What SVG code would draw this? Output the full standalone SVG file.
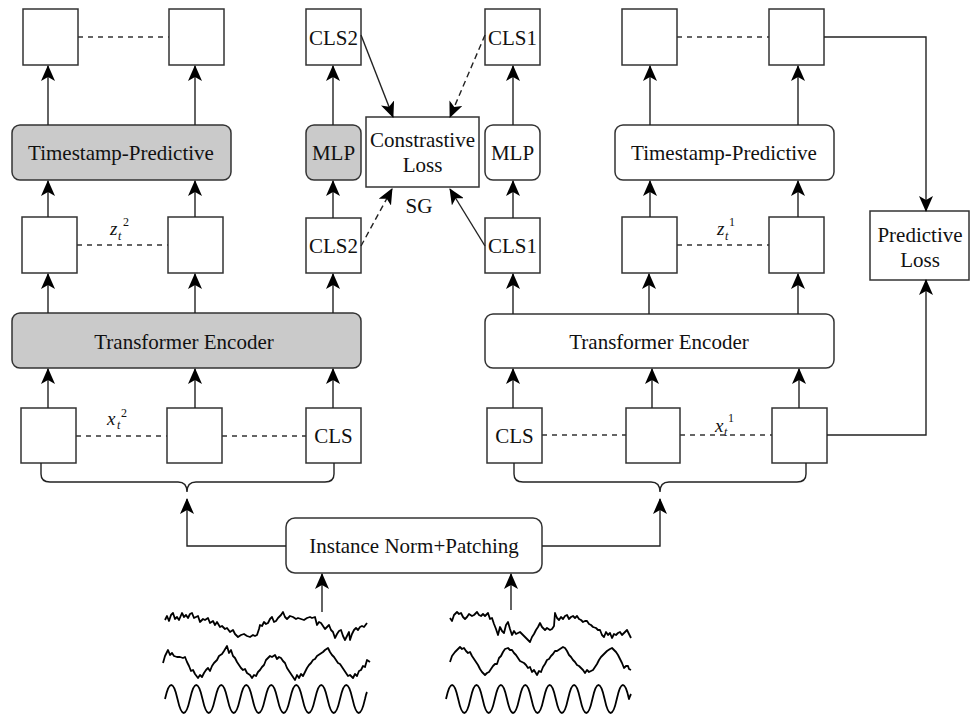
<svg xmlns="http://www.w3.org/2000/svg" width="971" height="717" viewBox="0 0 971 717">
<defs>
<marker id="ah" viewBox="0 0 16 14" refX="15" refY="7" markerWidth="16" markerHeight="14" orient="auto" markerUnits="userSpaceOnUse">
<path d="M0,0 L16,7 L0,14 L4,7 z" fill="#000"/>
</marker>
<style>
.box{fill:#fff;stroke:#333;stroke-width:1.5}
.gray{fill:#cacaca;stroke:#333;stroke-width:1.5}
.lbl{font-family:"Liberation Serif","Times New Roman",serif;font-size:21px;fill:#111;text-anchor:middle}
.math{font-family:"Liberation Serif","Times New Roman",serif;fill:#111;font-style:italic}
.num{font-family:"Liberation Serif","Times New Roman",serif;fill:#111;font-size:12px}
.ar{fill:none;stroke:#222;stroke-width:1.4;marker-end:url(#ah)}
.ard{fill:none;stroke:#222;stroke-width:1.4;stroke-dasharray:6,4;marker-end:url(#ah)}
.ln{fill:none;stroke:#222;stroke-width:1.4}
.dl{fill:none;stroke:#333;stroke-width:1.3;stroke-dasharray:5,5}
.wave{fill:none;stroke:#000;stroke-width:1.8;stroke-linejoin:round}
</style>
</defs>
<rect width="971" height="717" fill="#fff"/>

<!-- Left branch -->
<g id="left-out-1"><rect class="box" x="23" y="9" width="55" height="56"/></g>
<g id="left-out-2"><rect class="box" x="169" y="9" width="55" height="56"/></g>
<g id="left-tp"><rect class="gray" x="12" y="125" width="219" height="55" rx="8"/><text class="lbl" x="121" y="160">Timestamp-Predictive</text></g>
<g id="left-z-1"><rect class="box" x="22" y="217" width="55" height="56"/></g>
<g id="left-z-2"><rect class="box" x="168" y="217" width="55" height="56"/></g>
<g id="left-te"><rect class="gray" x="12" y="313" width="349" height="55" rx="8"/><text class="lbl" x="184" y="349">Transformer Encoder</text></g>
<g id="left-x-1"><rect class="box" x="21" y="408" width="55" height="55"/></g>
<g id="left-x-2"><rect class="box" x="167" y="408" width="55" height="55"/></g>
<g id="left-cls"><rect class="box" x="306" y="408" width="55" height="55"/><text class="lbl" x="333.5" y="443">CLS</text></g>

<!-- Middle -->
<g id="cls2-top"><rect class="box" x="306" y="9" width="55" height="56"/><text class="lbl" x="333.5" y="45">CLS2</text></g>
<g id="mlp-left"><rect class="gray" x="306" y="125" width="55" height="55" rx="8"/><text class="lbl" x="333.5" y="160">MLP</text></g>
<g id="cls2-low"><rect class="box" x="306" y="218" width="55" height="55"/><text class="lbl" x="333.5" y="253">CLS2</text></g>
<g id="contrastive-loss"><rect class="box" x="366" y="117" width="113" height="70"/><text class="lbl" x="422.5" y="147" font-size="20">Constrastive</text><text class="lbl" x="422.5" y="172" font-size="20">Loss</text></g>
<g id="sg"><text class="lbl" x="419" y="213">SG</text></g>
<g id="cls1-top"><rect class="box" x="485" y="9" width="55" height="56"/><text class="lbl" x="512.5" y="45">CLS1</text></g>
<g id="mlp-right"><rect class="box" x="485" y="125" width="55" height="55" rx="8"/><text class="lbl" x="512.5" y="160">MLP</text></g>
<g id="cls1-low"><rect class="box" x="485" y="218" width="55" height="55"/><text class="lbl" x="512.5" y="253">CLS1</text></g>

<!-- Right branch -->
<g id="right-out-1"><rect class="box" x="622" y="9" width="55" height="56"/></g>
<g id="right-out-2"><rect class="box" x="769" y="9" width="55" height="56"/></g>
<g id="right-tp"><rect class="box" x="615" y="125" width="219" height="55" rx="8"/><text class="lbl" x="724" y="160">Timestamp-Predictive</text></g>
<g id="right-z-1"><rect class="box" x="622" y="217" width="55" height="56"/></g>
<g id="right-z-2"><rect class="box" x="769" y="217" width="55" height="56"/></g>
<g id="right-te"><rect class="box" x="485" y="314" width="349" height="54" rx="8"/><text class="lbl" x="659" y="349">Transformer Encoder</text></g>
<g id="right-cls"><rect class="box" x="487" y="408" width="55" height="55"/><text class="lbl" x="514.5" y="443">CLS</text></g>
<g id="right-x-1"><rect class="box" x="626" y="408" width="54" height="55"/></g>
<g id="right-x-2"><rect class="box" x="772" y="408" width="55" height="55"/></g>
<g id="predictive-loss"><rect class="box" x="870" y="211" width="99" height="69"/><text class="lbl" x="920" y="242" font-size="20">Predictive</text><text class="lbl" x="920" y="267" font-size="20">Loss</text></g>

<g id="instance-norm"><rect class="box" x="286" y="518" width="256" height="55" rx="9"/><text class="lbl" x="414" y="553">Instance Norm+Patching</text></g>

<!-- math labels -->
<g id="label-z2"><text class="math" x="110" y="235" font-size="19">z</text><text class="math" x="118" y="240" font-size="12">t</text><text class="num" x="123" y="226">2</text></g>
<g id="label-x2"><text class="math" x="107" y="425" font-size="19">x</text><text class="math" x="117" y="429" font-size="12">t</text><text class="num" x="121" y="417">2</text></g>
<g id="label-z1"><text class="math" x="717" y="235" font-size="19">z</text><text class="math" x="725" y="240" font-size="12">t</text><text class="num" x="729" y="226">1</text></g>
<g id="label-x1"><text class="math" x="715" y="432" font-size="19">x</text><text class="math" x="724" y="436" font-size="12">t</text><text class="num" x="728" y="422">1</text></g>

<!-- connectors -->
<g id="connectors">
<line class="dl" x1="78" y1="37" x2="169" y2="37"/>
<line class="dl" x1="677" y1="37" x2="769" y2="37"/>
<line class="dl" x1="77" y1="245" x2="168" y2="245"/>
<line class="dl" x1="677" y1="245" x2="769" y2="245"/>
<line class="dl" x1="76" y1="436" x2="167" y2="436"/>
<line class="dl" x1="222" y1="436" x2="306" y2="436"/>
<line class="dl" x1="542" y1="435" x2="626" y2="435"/>
<line class="dl" x1="680" y1="435" x2="772" y2="435"/>

<path class="ar" d="M48,125 V66"/>
<path class="ar" d="M195,125 V66"/>
<path class="ar" d="M48,217 V181"/>
<path class="ar" d="M195,217 V181"/>
<path class="ar" d="M48,313 V274"/>
<path class="ar" d="M195,313 V274"/>
<path class="ar" d="M48,408 V369"/>
<path class="ar" d="M195,408 V369"/>
<path class="ar" d="M333,125 V66"/>
<path class="ar" d="M333,218 V181"/>
<path class="ar" d="M333,313 V274"/>
<path class="ar" d="M333,408 V369"/>
<path class="ar" d="M513,125 V66"/>
<path class="ar" d="M513,218 V181"/>
<path class="ar" d="M513,314 V274"/>
<path class="ar" d="M513,408 V369"/>
<path class="ar" d="M650,125 V66"/>
<path class="ar" d="M798,125 V66"/>
<path class="ar" d="M650,217 V181"/>
<path class="ar" d="M798,217 V181"/>
<path class="ar" d="M649,314 V274"/>
<path class="ar" d="M798,314 V274"/>
<path class="ar" d="M652,408 V369"/>
<path class="ar" d="M799,408 V369"/>

<path class="ar" d="M361,35 L393,117"/>
<path class="ard" d="M485,35 L450,117"/>
<path class="ard" d="M361,246 L392,189"/>
<path class="ar" d="M485,246 L450,189"/>

<path class="ar" d="M824,37 H926 V211"/>
<path class="ar" d="M827,435 H926 V280"/>

<path class="ln" d="M41,463 V474 Q41,482 50,482 H178 Q187,482 187,492 Q187,482 196,482 H325 Q334,482 334,474 V463"/>
<path class="ln" d="M514,463 V474 Q514,482 523,482 H651 Q660,482 660,492 Q660,482 669,482 H797 Q806,482 806,474 V463"/>

<path class="ar" d="M286,546 H187 V499"/>
<path class="ar" d="M542,546 H660 V499"/>

<path class="ar" d="M322,612 V574"/>
<path class="ar" d="M511,610 V574"/>
</g>

<!-- waveforms -->
<g id="waveforms-left">
<polyline class="wave" points="165,620 167,616 169,621 171,615 173,613 175,619 177,617 179,620 182,613 184,617 186,615 188,618 190,614 192,613 194,618 196,617 198,616 200,622 203,619 205,620 208,618 210,623 213,621 215,625 217,622 220,627 222,626 225,629 227,628 230,632 233,630 235,634 238,637 241,635 244,634 247,636 250,637 253,635 255,636 257,635 259,629 260,625 262,626 264,622 266,624 268,623 270,619 272,617 274,622 276,621 278,618 281,615 283,612 285,617 287,619 290,616 293,617 296,619 298,618 301,619 304,620 307,618 310,617 312,618 315,617 317,625 319,622 321,623 323,626 325,629 327,627 329,625 331,630 333,632 335,638 337,634 339,631 341,630 343,636 345,640 347,636 349,632 350,640 352,634 354,630 356,628 358,630 360,627 362,626 364,627 367,623"/>
<polyline class="wave" points="163,663 165,656 168,650 170,655 172,653 174,656 177,657 180,657 183,658 185,657 187,662 189,666 191,671 193,670 195,674 198,678 200,675 202,677 204,673 206,670 208,668 210,671 212,666 214,663 217,660 219,656 222,654 224,651 227,646 229,653 231,650 233,656 235,658 237,662 239,665 241,668 243,670 245,669 247,673 250,675 252,678 254,675 256,676 258,672 260,670 262,667 264,665 266,660 268,658 270,656 272,657 275,655 277,659 279,657 281,658 283,661 285,663 287,668 289,671 291,674 293,677 295,680 297,675 299,678 301,674 303,676 305,672 307,668 309,665 311,663 313,660 315,659 317,656 320,654 323,652 325,650 328,648 330,652 332,655 334,657 336,660 338,663 340,664 342,667 344,670 346,673 348,676 350,675 353,678 355,674 357,676 359,671 361,670 363,666 365,667 367,660 370,662"/>
<path class="wave" d="M165,699 q6.25,-28 12.5,0 t12.5,0 t12.5,0 t12.5,0 t12.5,0 t12.5,0 t12.5,0 t12.5,0 t12.5,0 t12.5,0 t12.5,0 t12.5,0 t12.5,0 t12.5,0 t12.5,0 t12.5,0 q1,-5 2,-7"/>
</g>
<g id="waveforms-right">
<polyline class="wave" points="450,618 452,621 454,615 457,612 459,614 461,613 463,617 465,619 467,617 469,614 472,616 474,615 477,612 479,615 481,616 483,614 485,616 488,613 490,619 492,618 494,624 496,629 498,635 500,627 502,631 504,633 506,625 508,622 510,629 512,635 514,631 516,634 518,633 520,632 522,634 524,636 526,638 528,640 530,642 532,637 534,634 536,630 538,627 540,623 542,627 545,630 547,628 550,630 552,629 554,626 555,613 557,618 559,620 561,617 563,619 565,616 567,615 569,619 571,617 573,616 575,618 577,616 579,619 581,620 583,622 585,621 587,621 589,624 591,625 593,627 596,628 598,630 600,630 602,635 604,637 606,632 608,635 610,633 612,638 614,634 616,635 618,633 620,632 622,635 624,633 627,630 629,634 631,638"/>
<polyline class="wave" points="450,662 452,656 455,652 457,650 460,647 462,649 464,648 466,651 468,653 470,652 472,656 474,659 476,662 478,665 480,669 482,672 485,675 487,673 489,672 491,669 493,666 495,664 497,664 499,658 501,656 503,652 505,649 508,648 510,650 512,650 514,653 516,655 518,658 520,661 522,662 524,663 526,665 528,668 530,667 532,672 534,670 537,675 539,671 541,672 543,667 545,664 547,660 549,659 551,656 553,654 555,651 557,651 560,649 563,647 565,648 567,651 569,655 571,657 573,660 575,662 577,665 579,666 581,668 583,670 585,673 587,670 589,672 591,671 593,670 595,667 597,664 599,660 601,657 603,655 605,653 607,651 610,649 612,648 614,650 616,652 618,655 620,659 622,663 624,668 626,666 628,666 629,669 631,670"/>
<path class="wave" d="M446,699 q6.1,-28 12.2,0 t12.2,0 t12.2,0 t12.2,0 t12.2,0 t12.2,0 t12.2,0 t12.2,0 t12.2,0 t12.2,0 t12.2,0 t12.2,0 t12.2,0 t12.2,0 t12.2,0 q1,-3 2,-5"/>
</g>
</svg>
